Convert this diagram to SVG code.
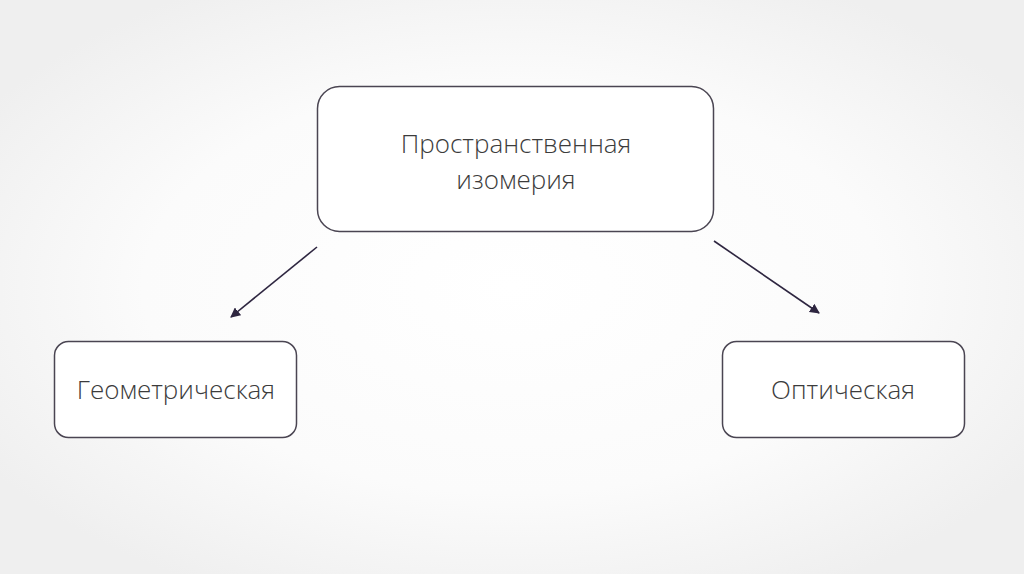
<svg xmlns="http://www.w3.org/2000/svg" width="1024" height="574" viewBox="0 0 1024 574">
<defs>
<radialGradient id="bg" cx="50%" cy="50%" r="60%">
<stop offset="0" stop-color="#ffffff"/>
<stop offset="0.6" stop-color="#fbfbfb"/>
<stop offset="1" stop-color="#efefef"/>
</radialGradient>
<marker id="ah" viewBox="0 0 10 10" refX="9" refY="5" markerWidth="10" markerHeight="10" markerUnits="userSpaceOnUse" orient="auto">
<path d="M0,0 L10,5 L0,10 Z" fill="#2e2640"/>
</marker>
<style>
.box{fill:#ffffff;stroke:#4a4552;stroke-width:1.5}
.t{font-family:"Open Sans","Noto Sans",sans-serif;font-weight:300;font-size:26px;fill:#3c3c3c;text-anchor:middle}
.c{stroke:#2e2640;stroke-width:1.6;fill:none;marker-end:url(#ah)}
</style>
</defs>
<rect width="1024" height="574" fill="url(#bg)"/>
<g id="n-top">
<rect class="box" x="317.5" y="86.5" width="396" height="145" rx="22"/>
<text class="t" x="516" y="153">Пространственная</text>
<text class="t" x="516" y="189">изомерия</text>
</g>
<g id="n-geom">
<rect class="box" x="54.5" y="341.5" width="242" height="96" rx="14"/>
<text class="t" x="176" y="399">Геометрическая</text>
</g>
<g id="n-opt">
<rect class="box" x="722.5" y="341.5" width="242" height="96" rx="14"/>
<text class="t" x="843" y="399">Оптическая</text>
</g>
<g id="connectors">
<line class="c" x1="317" y1="247" x2="231" y2="317"/>
<line class="c" x1="714" y1="241" x2="819" y2="313"/>
</g>
</svg>
